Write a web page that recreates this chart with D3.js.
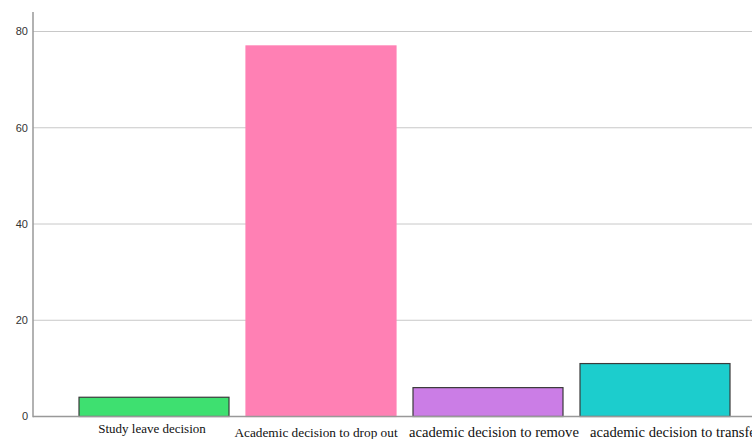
<!DOCTYPE html>
<html>
<head>
<meta charset="utf-8">
<script src="https://cdn.jsdelivr.net/npm/d3@7"></script>
<style>
  body { margin: 0; background: #fff; overflow: hidden; }
  svg { display: block; }
</style>
</head>
<body>
<svg id="chart"></svg>
<script>
const categories = ["Study leave decision", "Academic decision to drop out", "academic decision to remove", "academic decision to transfer"];
const counts = [4, 77, 6, 11];
const barColors = ["#3ee070", "#ff80b4", "#cb7de6", "#1ccdcd"];
const barStrokes = ["#3a3a3a", "#ff80b4", "#3a3a3a", "#3a3a3a"];
const yTicks = [0, 20, 40, 60, 80];

const width = 752, height = 439;
const axisX = 33, baseY = 416.5, topY = 12;

const svg = d3.select("#chart").attr("width", width).attr("height", height);

const y = d3.scaleLinear().domain([0, 80]).range([baseY, 31.5]);
const x = d3.scaleBand()
  .domain(categories)
  .range([70.5, 738.5])
  .paddingInner(17 / 167)
  .paddingOuter(8.5 / 167);

// grid lines
svg.append("g")
  .selectAll("line")
  .data(yTicks.filter(d => d > 0))
  .join("line")
  .attr("x1", axisX).attr("x2", width)
  .attr("y1", d => y(d)).attr("y2", d => y(d))
  .attr("stroke", "#c8c8c8").attr("stroke-width", 1);

// bars
svg.append("g")
  .selectAll("rect")
  .data(counts)
  .join("rect")
  .attr("x", (d, i) => x(categories[i]))
  .attr("y", d => y(d))
  .attr("width", x.bandwidth())
  .attr("height", d => baseY - y(d))
  .attr("fill", (d, i) => barColors[i])
  .attr("stroke", (d, i) => barStrokes[i])
  .attr("stroke-width", 1.2);

// axis lines
svg.append("line")
  .attr("x1", axisX).attr("x2", width)
  .attr("y1", baseY).attr("y2", baseY)
  .attr("stroke", "#999").attr("stroke-width", 1.5);
svg.append("line")
  .attr("x1", axisX).attr("x2", axisX)
  .attr("y1", topY).attr("y2", baseY + 0.75)
  .attr("stroke", "#999").attr("stroke-width", 1.5);

// y tick labels
svg.append("g")
  .selectAll("text")
  .data(yTicks)
  .join("text")
  .attr("x", 28)
  .attr("y", d => y(d))
  .attr("dy", "0.35em")
  .attr("text-anchor", "end")
  .attr("font-family", "Liberation Sans, Arial, sans-serif")
  .attr("font-size", 11)
  .attr("fill", "#333")
  .text(d => d);

// category labels (staggered / uneven like the original)
const labelSize = [13, 13.3, 14.6, 14.6];
svg.append("g")
  .selectAll("text")
  .data(categories)
  .join("text")
  .attr("x", (d, i) => i === 3 ? x(d) + 10 : x(d) + x.bandwidth() / 2 + [-2, -5, 6][i])
  .attr("y", (d, i) => i === 0 ? 433 : 437)
  .attr("text-anchor", (d, i) => i === 3 ? "start" : "middle")
  .attr("font-family", "Liberation Serif, Times New Roman, serif")
  .attr("font-size", (d, i) => labelSize[i])
  .attr("fill", "#111")
  .text(d => d);
</script>
</body>
</html>
